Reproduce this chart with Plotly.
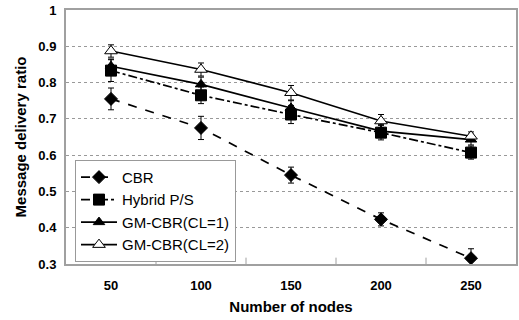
import plotly.graph_objects as go

nodes = [50, 100, 150, 200, 250]
cbr = [0.755, 0.675, 0.545, 0.423, 0.316]
cbr_err = [0.030, 0.032, 0.022, 0.018, 0.026]
hybrid = [0.833, 0.765, 0.712, 0.662, 0.607]
hybrid_err = [0.030, 0.023, 0.025, 0.020, 0.018]
gm1 = [0.845, 0.795, 0.730, 0.666, 0.643]
gm1_err = [0.020, 0.020, 0.020, 0.018, 0.015]
gm2 = [0.887, 0.836, 0.772, 0.694, 0.652]
gm2_err = [0.017, 0.018, 0.020, 0.018, 0.012]

names = ["CBR", "Hybrid P/S", "GM-CBR(CL=1)", "GM-CBR(CL=2)"]
series = [cbr, hybrid, gm1, gm2]
errs = [cbr_err, hybrid_err, gm1_err, gm2_err]
dashes = ["dash", "dashdot", "solid", "solid"]
symbols = ["diamond", "square", "triangle-up", "triangle-up"]
fills = ["black", "black", "black", "white"]
sizes = [10, 11, 10, 11]

fig = go.Figure()
for n, y, e, d, s, f, sz in zip(names, series, errs, dashes, symbols, fills, sizes):
    fig.add_trace(go.Scatter(
        x=nodes, y=y, name=n, mode="lines+markers",
        line=dict(color="black", width=1.7, dash=d),
        marker=dict(symbol=s, color=f, size=sz, line=dict(color="black", width=1)),
        error_y=dict(type="data", array=e, color="black", thickness=1, width=3),
    ))

fig.update_layout(
    width=519, height=320,
    margin=dict(l=66, r=1, t=10, b=56),
    paper_bgcolor="white", plot_bgcolor="white",
    font=dict(family="Liberation Sans, Arial", color="black"),
    showlegend=True,
    legend=dict(x=0.02, y=0.41, xanchor="left", yanchor="top",
                bordercolor="#999999", borderwidth=1, bgcolor="white",
                font=dict(size=15), tracegroupgap=0, itemwidth=36),
    xaxis=dict(range=[25, 275], tickmode="array", tickvals=nodes,
               ticktext=[str(v) for v in nodes], ticks="", showgrid=False,
               showline=True, linecolor="#a0a0a0", linewidth=2, mirror=True,
               ticklabelstandoff=8,
               tickfont=dict(size=13, family="Liberation Sans", weight="bold"),
               title=dict(text="<b>Number of nodes</b>", font=dict(size=15), standoff=10),
               zeroline=False),
    yaxis=dict(range=[0.3, 1.0], dtick=0.1, tickformat=".1~f",
               showgrid=True, gridcolor="#999999", griddash="dot", gridwidth=1,
               showline=True, linecolor="#a0a0a0", linewidth=2, mirror=True,
               ticks="", ticklabelstandoff=5, tickfont=dict(size=13, weight="bold"),
               title=dict(text="<b>Message delivery ratio</b>", font=dict(size=15), standoff=8),
               zeroline=False),
)

# minor tick marks between categories on x axis
for xv in [75, 125, 175, 225]:
    fig.add_shape(type="line", xref="x", yref="paper", x0=xv, x1=xv, y0=0, y1=0.025,
                  line=dict(color="#a0a0a0", width=1))

fig.write_html("out.html")
